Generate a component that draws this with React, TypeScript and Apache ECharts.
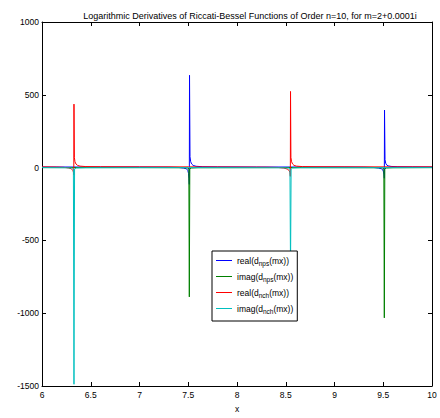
import React, { useEffect, useRef } from "react";
import * as echarts from "echarts";

const titleText =
  "Logarithmic Derivatives of Riccati-Bessel Functions of Order n=10, for m=2+0.0001i";
const xAxisName = "x";
const xMin = 6;
const xMax = 10;
const xInterval = 0.5;
const yMin = -1500;
const yMax = 1000;
const yInterval = 500;

const seriesNames = [
  "real(d_nps(mx))",
  "imag(d_nps(mx))",
  "real(d_nch(mx))",
  "imag(d_nch(mx))",
];
const legendRich: Record<string, string> = {
  "real(d_nps(mx))": "{a|real(d}{s|nps}{a|(mx))}",
  "imag(d_nps(mx))": "{a|imag(d}{s|nps}{a|(mx))}",
  "real(d_nch(mx))": "{a|real(d}{s|nch}{a|(mx))}",
  "imag(d_nch(mx))": "{a|imag(d}{s|nch}{a|(mx))}",
};
const seriesColors = ["#0000ff", "#008000", "#ff0000", "#00bfbf"];

// real(d_nps(mx))
const blueX = [6.0, 6.5, 7.0, 7.3, 7.4, 7.45, 7.48, 7.495, 7.503, 7.508, 7.511, 7.513, 7.518, 7.525, 7.535, 7.55, 7.58, 7.65, 7.8, 8.2, 8.7, 9.1, 9.3, 9.4, 9.45, 9.48, 9.495, 9.503, 9.508, 9.511, 9.513, 9.518, 9.525, 9.535, 9.55, 9.58, 9.65, 9.8, 10.0];
const blueY = [4, 4, 4, 3, 1, -3, -8, -18, -40, -75, -115, 634, 75, 40, 25, 15, 9, 6, 5, 4, 4, 4, 3, 1, -3, -8, -15, -30, -50, -73, 395, 55, 30, 18, 12, 8, 6, 5, 4];

// imag(d_nps(mx))
const greenX = [6.0, 7.0, 7.45, 7.5, 7.506, 7.511, 7.516, 7.53, 7.6, 8.5, 9.45, 9.5, 9.506, 9.511, 9.516, 9.53, 9.6, 10.0];
const greenY = [0, 0, -1, -3, -10, -888, -10, -3, -1, 0, -1, -3, -10, -1032, -10, -3, -1, 0];

// real(d_nch(mx))
const redX = [6.0, 6.15, 6.22, 6.27, 6.3, 6.315, 6.322, 6.326, 6.328, 6.332, 6.338, 6.348, 6.365, 6.39, 6.45, 6.6, 7.0, 7.5, 8.0, 8.3, 8.42, 8.48, 8.515, 8.535, 8.543, 8.547, 8.549, 8.553, 8.56, 8.57, 8.585, 8.61, 8.67, 8.8, 9.2, 9.6, 10.0];
const redY = [5, 4, 2, -2, -8, -18, -30, -50, 436, 70, 40, 25, 15, 10, 7, 6, 5, 5, 4, 3, 1, -3, -10, -20, -35, -60, 523, 70, 40, 25, 15, 10, 7, 6, 5, 5, 5];

// imag(d_nch(mx))
const cyanX = [6.0, 6.25, 6.31, 6.322, 6.328, 6.334, 6.35, 6.45, 7.5, 8.45, 8.53, 8.543, 8.549, 8.555, 8.57, 8.65, 10.0];
const cyanY = [0, -1, -3, -10, -1488, -10, -3, -1, 0, -1, -3, -10, -700, -10, -3, -1, 0];

const seriesXs = [blueX, greenX, redX, cyanX];
const seriesYs = [blueY, greenY, redY, cyanY];

const FONT = "Liberation Sans, Arial, Helvetica, sans-serif";

export default function App() {
  const ref = useRef<HTMLDivElement>(null);
  useEffect(() => {
    if (!ref.current) return;
    const chart = echarts.init(ref.current, undefined, { renderer: "svg" });
    const axisCommon = {
      axisLine: { show: true, onZero: false, lineStyle: { color: "#000", width: 1 } },
      axisTick: { show: true, inside: true, length: 4, lineStyle: { color: "#000" } },
      splitLine: { show: false },
    };
    chart.setOption({
      animation: false,
      backgroundColor: "#fff",
      title: {
        text: titleText,
        left: 245,
        textAlign: "center",
        top: 6,
        textStyle: { fontFamily: FONT, fontSize: 9, fontWeight: "normal", color: "#000" },
      },
      grid: { left: 42, right: 8, top: 22, bottom: 28, containLabel: false },
      legend: {
        data: seriesNames,
        orient: "vertical",
        left: 212,
        top: 251,
        padding: [5, 4, 6, 4],
        itemWidth: 16,
        itemHeight: 10,
        itemGap: 5,
        icon: "path://M0,0 L16,0 L16,1 L0,1 Z",
        borderColor: "#000",
        borderWidth: 1,
        borderRadius: 0,
        backgroundColor: "#fff",
        formatter: (name: string) => legendRich[name] || name,
        textStyle: {
          fontFamily: FONT,
          fontSize: 8.5,
          color: "#000",
          rich: {
            a: { fontFamily: FONT, fontSize: 8.5, color: "#000", lineHeight: 10 },
            s: { fontFamily: FONT, fontSize: 6.5, color: "#000", padding: [6, 0, 0, 0] },
          },
        },
      },
      xAxis: [
        {
          type: "value",
          min: xMin,
          max: xMax,
          interval: xInterval,
          position: "bottom",
          name: xAxisName,
          nameLocation: "middle",
          nameGap: 18,
          nameTextStyle: { fontFamily: FONT, fontSize: 8.5, color: "#000" },
          axisLabel: { fontFamily: FONT, fontSize: 8.5, color: "#000", margin: 4, formatter: (v: number) => String(v) },
          ...axisCommon,
        },
        {
          type: "value",
          min: xMin,
          max: xMax,
          interval: xInterval,
          position: "top",
          axisLabel: { show: false },
          ...axisCommon,
        },
      ],
      yAxis: [
        {
          type: "value",
          min: yMin,
          max: yMax,
          interval: yInterval,
          position: "left",
          axisLabel: { fontFamily: FONT, fontSize: 8.5, color: "#000", margin: 3, formatter: (v: number) => String(v) },
          ...axisCommon,
        },
        {
          type: "value",
          min: yMin,
          max: yMax,
          interval: yInterval,
          position: "right",
          axisLabel: { show: false },
          ...axisCommon,
        },
      ],
      series: seriesNames.map((name, i) => ({
        name,
        type: "line",
        xAxisIndex: 0,
        yAxisIndex: 0,
        symbol: "none",
        showSymbol: false,
        lineStyle: { color: seriesColors[i], width: 1 },
        itemStyle: { color: seriesColors[i] },
        data: seriesXs[i].map((x, j) => [x, seriesYs[i][j]]),
      })),
    });
    return () => chart.dispose();
  }, []);
  return <div ref={ref} style={{ width: 440, height: 418, position: "absolute", left: 0, top: 0 }} />;
}
